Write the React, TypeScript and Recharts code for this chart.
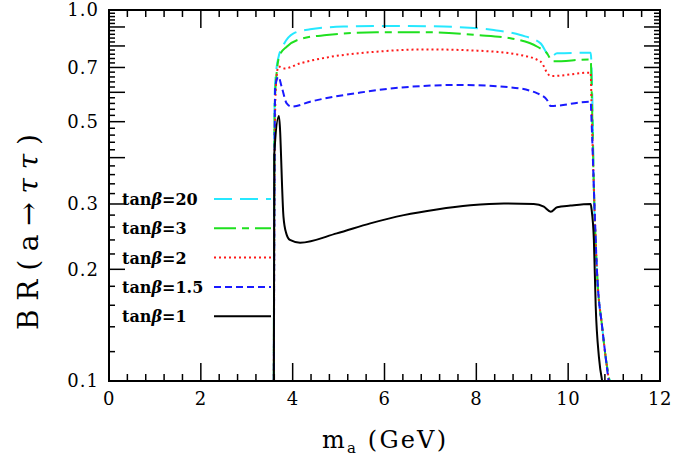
import { Line, LineChart, XAxis, YAxis } from 'recharts'

// m_a (GeV) vs BR(a -> tau tau)
const massTicks = [0, 2, 4, 6, 8, 10, 12]
const brTicks = [0.1, 0.2, 0.3, 0.5, 0.7, 1.0]

const tanb20: [number, number][] = [
  [3.59, 0.1], [3.6, 0.4], [3.61, 0.6], [3.65, 0.7], [3.69, 0.745], [3.8, 0.805],
  [4.02, 0.865], [4.38, 0.887], [5.11, 0.902], [6.2, 0.906], [7.29, 0.902], [8.38, 0.883],
  [8.96, 0.856], [9.4, 0.813], [9.54, 0.764], [9.62, 0.748], [9.76, 0.764], [10.38, 0.767],
  [10.49, 0.767], [10.53, 0.55], [10.56, 0.33], [10.63, 0.195], [10.74, 0.14], [10.82, 0.115],
  [10.91, 0.1],
]
const tanb3: [number, number][] = [
  [3.59, 0.1], [3.6, 0.4], [3.61, 0.549], [3.65, 0.675], [3.72, 0.756], [3.87, 0.796],
  [4.23, 0.839], [4.74, 0.856], [5.83, 0.871], [6.93, 0.871], [8.02, 0.856], [8.74, 0.839],
  [9.33, 0.796], [9.54, 0.764], [9.66, 0.727], [10.49, 0.736], [10.52, 0.55], [10.56, 0.33],
  [10.63, 0.195], [10.74, 0.14], [10.82, 0.115], [10.9, 0.1],
]
const tanb2: [number, number][] = [
  [3.59, 0.1], [3.61, 0.45], [3.64, 0.64], [3.69, 0.704], [3.83, 0.696], [4.16, 0.718],
  [4.75, 0.745], [5.83, 0.772], [6.93, 0.783], [8.02, 0.777], [8.96, 0.756], [9.4, 0.726],
  [9.58, 0.668], [9.65, 0.664], [10.49, 0.678], [10.51, 0.55], [10.56, 0.33], [10.63, 0.195],
  [10.74, 0.14], [10.82, 0.115], [10.89, 0.1],
]
const tanb15: [number, number][] = [
  [3.59, 0.1], [3.61, 0.5], [3.62, 0.62], [3.69, 0.661], [3.76, 0.621], [3.87, 0.56],
  [3.98, 0.549], [4.38, 0.566], [5.47, 0.599], [6.56, 0.621], [7.65, 0.628], [8.74, 0.619],
  [9.33, 0.596], [9.54, 0.572], [9.62, 0.551], [10.49, 0.566], [10.51, 0.5], [10.56, 0.33],
  [10.63, 0.195], [10.74, 0.14], [10.82, 0.115], [10.88, 0.1],
]
const tanb1: [number, number][] = [
  [3.59, 0.1], [3.6, 0.41], [3.7, 0.518], [3.8, 0.277], [3.86, 0.25], [3.94, 0.24],
  [4.16, 0.236], [4.96, 0.25], [5.69, 0.266], [6.42, 0.28], [7.14, 0.29], [7.87, 0.2975],
  [8.6, 0.301], [9.25, 0.3], [9.47, 0.295], [9.62, 0.286], [9.76, 0.294], [10.05, 0.297],
  [10.49, 0.3], [10.51, 0.29], [10.56, 0.24], [10.6, 0.159], [10.67, 0.116], [10.74, 0.1],
]

const series = [
  { name: '20', color: '#26e8ff', dash: '18 8', data: tanb20 },
  { name: '3', color: '#1fe01f', dash: '22 6 7 6', data: tanb3 },
  { name: '2', color: '#ff1a1a', dash: '2 3', data: tanb2 },
  { name: '1.5', color: '#1a1aff', dash: '7 4', data: tanb15 },
  { name: '1', color: '#000000', dash: undefined, data: tanb1 },
]

function steps(from: number, to: number, step: number) {
  const out: number[] = []
  for (let i = 0; from + i * step <= to + 1e-9; i++) out.push(+(from + i * step).toFixed(3))
  return out
}
const massMinor = steps(0, 12, 0.4)
const brMinor = steps(0.1, 1, 0.02)

const W = 677
const H = 457
const M = { top: 10, right: 17, bottom: 36, left: 49 }
const PLOT_TOP = 10
const PLOT_BOTTOM = 381
const PLOT_LEFT = 109
const PLOT_RIGHT = 660
const font = '"DejaVu Serif", serif'

// same mapping the axes use (linear 0..12, log 0.1..1)
const px = (v: number) => PLOT_LEFT + ((PLOT_RIGHT - PLOT_LEFT) * v) / 12
const py = (v: number) => PLOT_TOP - (PLOT_BOTTOM - PLOT_TOP) * Math.log10(v)
const isMassMajor = (v: number) => Math.abs(v / 2 - Math.round(v / 2)) < 1e-6
const isBrMajor = (v: number) => Math.abs(v * 10 - Math.round(v * 10)) < 1e-6

function MassLabel(props: any) {
  const { x, y, payload } = props
  const v = payload.value as number
  return (
    <text x={x} y={y} dy="0.71em" textAnchor="middle" fontFamily={font} fontSize={18} letterSpacing={0.5}>
      {v}
    </text>
  )
}

function BrLabel(props: any) {
  const { x, y, payload } = props
  return (
    <text x={x} y={y} dy="0.355em" textAnchor="end" fontFamily={font} fontSize={18} letterSpacing={1}>
      {(payload.value as number).toFixed(1)}
    </text>
  )
}

// frame with inward ticks on all four sides, plus the x title
function FrameAndMassTitle() {
  return (
    <g>
      <rect
        x={PLOT_LEFT}
        y={PLOT_TOP}
        width={PLOT_RIGHT - PLOT_LEFT}
        height={PLOT_BOTTOM - PLOT_TOP}
        fill="none"
        stroke="#000"
        strokeWidth={2}
      />
      {massMinor.map((v) => {
        const len = isMassMajor(v) ? 18 : 7
        return (
          <g key={`m${v}`}>
            <line x1={px(v)} x2={px(v)} y1={PLOT_BOTTOM} y2={PLOT_BOTTOM - len} stroke="#000" strokeWidth={1.5} />
            <line x1={px(v)} x2={px(v)} y1={PLOT_TOP} y2={PLOT_TOP + len} stroke="#000" strokeWidth={1.5} />
          </g>
        )
      })}
      {brMinor.map((v) => {
        const len = isBrMajor(v) ? 16 : 6
        return (
          <g key={`b${v}`}>
            <line x1={PLOT_LEFT} x2={PLOT_LEFT + len} y1={py(v)} y2={py(v)} stroke="#000" strokeWidth={1.5} />
            <line x1={PLOT_RIGHT} x2={PLOT_RIGHT - len} y1={py(v)} y2={py(v)} stroke="#000" strokeWidth={1.5} />
          </g>
        )
      })}
      <text x={384} y={448} textAnchor="middle" fontFamily={font} fontSize={24} textLength={124} lengthAdjust="spacing">
        m<tspan fontSize={15} dy={5}>a</tspan>
        <tspan dy={-5}>{' (GeV)'}</tspan>
      </text>
    </g>
  )
}

// y title plus the key drawn inside the frame
function BrTitleAndKey() {
  return (
    <g>
      <text
        transform="translate(38,232) rotate(-90)"
        textAnchor="middle"
        fontFamily={font}
        fontSize={28}
        textLength={196}
        lengthAdjust="spacing"
      >
        BR(a→<tspan fontStyle="italic">ττ</tspan>)
      </text>
      {series.map((s, i) => (
        <g key={s.name}>
          <text x={122} y={205 + i * 29.3} fontFamily={font} fontSize={16} fontWeight="bold">
            tan<tspan fontStyle="italic">β</tspan>={s.name}
          </text>
          <line
            x1={214}
            x2={271}
            y1={199 + i * 29.3}
            y2={199 + i * 29.3}
            stroke={s.color}
            strokeWidth={2}
            strokeDasharray={s.dash}
          />
        </g>
      ))}
    </g>
  )
}

export default function App() {
  return (
    <div style={{ position: 'absolute', left: 0, top: 0, width: W, height: H }}>
      <LineChart width={W} height={H} margin={M}>
        <XAxis
          xAxisId="m"
          dataKey="x"
          type="number"
          domain={[0, 12]}
          allowDataOverflow
          ticks={massTicks}
          interval={0}
          height={40}
          tickSize={0}
          tickMargin={11}
          tickLine={false}
          axisLine={{ stroke: '#000', strokeWidth: 2 }}
          tick={<MassLabel />}
          label={<FrameAndMassTitle />}
        />
        <YAxis
          yAxisId="br"
          type="number"
          scale="log"
          domain={[0.1, 1]}
          allowDataOverflow
          ticks={brTicks}
          interval={0}
          width={60}
          tickSize={0}
          tickMargin={10}
          tickLine={false}
          axisLine={{ stroke: '#000', strokeWidth: 2 }}
          tick={<BrLabel />}
          label={<BrTitleAndKey />}
        />
        {series.map((s) => (
          <Line
            key={s.name}
            xAxisId="m"
            yAxisId="br"
            data={s.data.map(([x, y]) => ({ x, y }))}
            dataKey="y"
            type="monotone"
            stroke={s.color}
            strokeWidth={2}
            strokeDasharray={s.dash}
            dot={false}
            activeDot={false}
            isAnimationActive={false}
          />
        ))}
      </LineChart>
    </div>
  )
}
